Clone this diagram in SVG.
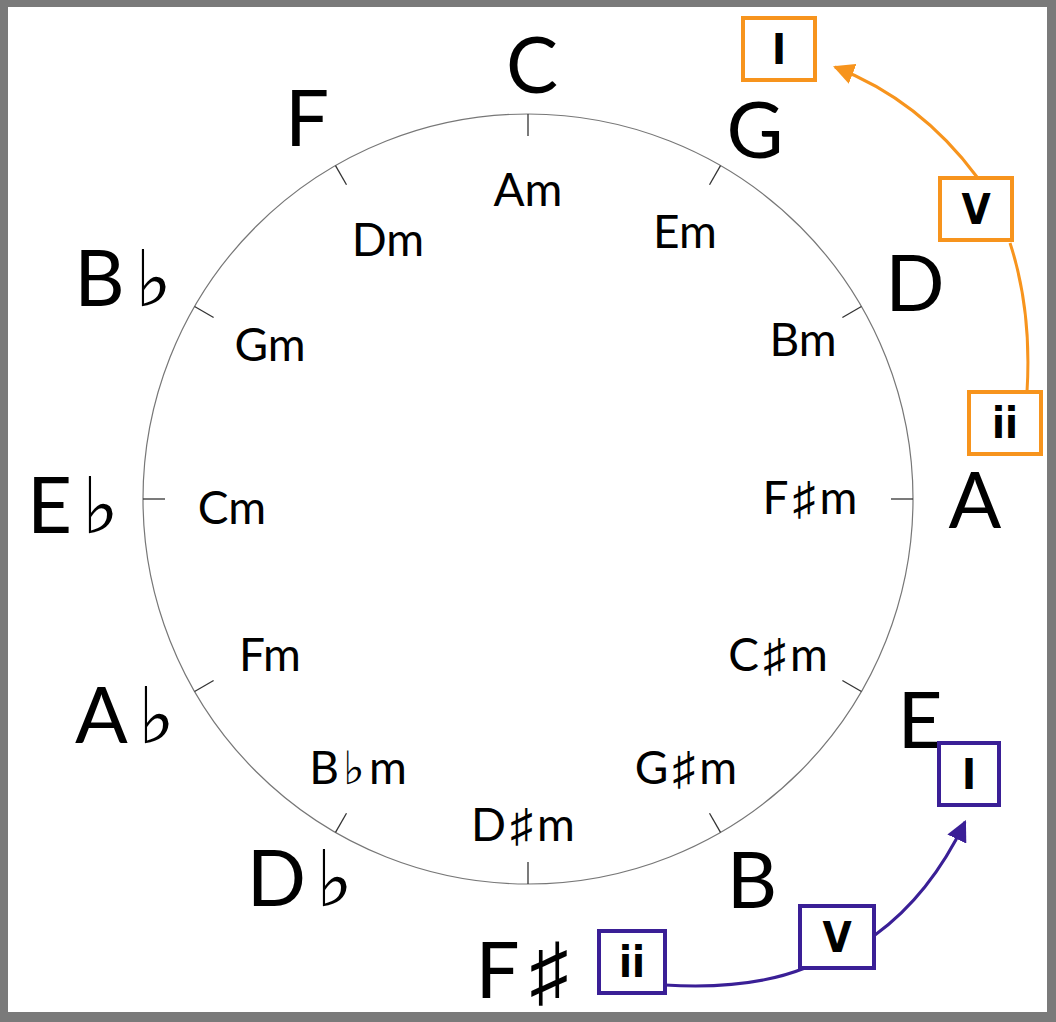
<svg xmlns="http://www.w3.org/2000/svg" width="1056" height="1022" viewBox="0 0 1056 1022">
<defs>
<style>
.maj{font-family:Lato,"Open Sans",sans-serif;font-size:78px;fill:#000;text-anchor:middle;dominant-baseline:central}
.min{font-family:Lato,"Open Sans",sans-serif;font-size:46px;fill:#000;text-anchor:middle;dominant-baseline:central}
.rn{font-family:"DejaVu Sans Condensed","DejaVu Sans",sans-serif;font-weight:bold;font-size:42px;fill:#000;text-anchor:middle;dominant-baseline:central}
.o{fill:#fff;stroke:#f7941d;stroke-width:4}
.p{fill:#fff;stroke:#3a1f96;stroke-width:4}
.tick{stroke:#333;stroke-width:1.3}
</style>
<marker id="ao" viewBox="0 0 10 10" refX="9" refY="5" markerWidth="7" markerHeight="7" orient="auto"><path d="M0,0 L10,5 L0,10 z" fill="#f7941d"/></marker>
<marker id="ap" viewBox="0 0 10 10" refX="9" refY="5" markerWidth="7" markerHeight="7" orient="auto"><path d="M0,0 L10,5 L0,10 z" fill="#3a1f96"/></marker>
</defs>
<rect x="0" y="0" width="1056" height="1022" fill="#7a7a7a"/>
<rect x="8" y="7" width="1039" height="1005" fill="#fff"/>
<g id="circle">
<circle cx="528" cy="499" r="385" fill="none" stroke="#777" stroke-width="1.2"/>
<g class="tick">
<line x1="528" y1="114" x2="528" y2="136"/>
<line x1="720.5" y1="165.6" x2="709.5" y2="184.7"/>
<line x1="861.4" y1="306.5" x2="842.4" y2="317.5"/>
<line x1="913" y1="499" x2="891" y2="499"/>
<line x1="861.4" y1="691.5" x2="842.4" y2="680.5"/>
<line x1="720.5" y1="832.4" x2="709.5" y2="813.3"/>
<line x1="528" y1="884" x2="528" y2="862"/>
<line x1="335.5" y1="832.4" x2="346.5" y2="813.3"/>
<line x1="194.6" y1="691.5" x2="213.6" y2="680.5"/>
<line x1="143" y1="499" x2="165" y2="499"/>
<line x1="194.6" y1="306.5" x2="213.6" y2="317.5"/>
<line x1="335.5" y1="165.6" x2="346.5" y2="184.7"/>
</g>
</g>
<g id="major">
<text class="maj" x="532" y="63">C</text>
<text class="maj" x="755" y="128">G</text>
<text class="maj" x="915" y="281">D</text>
<text class="maj" x="975" y="498">A</text>
<text class="maj" x="920" y="718">E</text>
<text class="maj" x="752" y="878">B</text>
<text class="maj" x="527" y="968" letter-spacing="10">F♯</text>
<text class="maj" x="305" y="876" letter-spacing="10">D♭</text>
<text class="maj" x="130" y="713" letter-spacing="10">A♭</text>
<text class="maj" x="78" y="503" letter-spacing="10">E♭</text>
<text class="maj" x="128" y="276" letter-spacing="10">B♭</text>
<text class="maj" x="307" y="116">F</text>
</g>
<g id="minor">
<text class="min" x="528" y="188">Am</text>
<text class="min" x="685" y="230">Em</text>
<text class="min" x="803" y="338">Bm</text>
<text class="min" x="812" y="496" letter-spacing="4">F♯m</text>
<text class="min" x="780" y="653" letter-spacing="4">C♯m</text>
<text class="min" x="688" y="766" letter-spacing="4">G♯m</text>
<text class="min" x="525" y="823" letter-spacing="4">D♯m</text>
<text class="min" x="360" y="766" letter-spacing="4">B♭m</text>
<text class="min" x="270" y="653">Fm</text>
<text class="min" x="232" y="506">Cm</text>
<text class="min" x="270" y="343">Gm</text>
<text class="min" x="388" y="238">Dm</text>
</g>
<g id="connectors" fill="none">
<path d="M977,177 Q920,100 835,67" stroke="#f7941d" stroke-width="3" marker-end="url(#ao)"/>
<path d="M1010,243 Q1032,310 1027,392" stroke="#f7941d" stroke-width="3"/>
<path d="M665,985 Q750,990 805,968" stroke="#3a1f96" stroke-width="3"/>
<path d="M875,935 Q930,895 965,822" stroke="#3a1f96" stroke-width="3" marker-end="url(#ap)"/>
</g>
<g id="oI"><rect class="o" x="743" y="18" width="72" height="62"/><text class="rn" x="779" y="49">I</text></g>
<g id="oV"><rect class="o" x="940" y="178" width="72" height="62"/><text class="rn" x="976" y="209">V</text></g>
<g id="oii"><rect class="o" x="969" y="392" width="72" height="62"/><text class="rn" x="1005" y="423">ii</text></g>
<g id="pI"><rect class="p" x="939" y="743" width="60" height="62"/><text class="rn" x="969" y="774">I</text></g>
<g id="pV"><rect class="p" x="800" y="906" width="74" height="62"/><text class="rn" x="837" y="937">V</text></g>
<g id="pii"><rect class="p" x="599" y="931" width="66" height="62"/><text class="rn" x="632" y="962">ii</text></g>
</svg>
